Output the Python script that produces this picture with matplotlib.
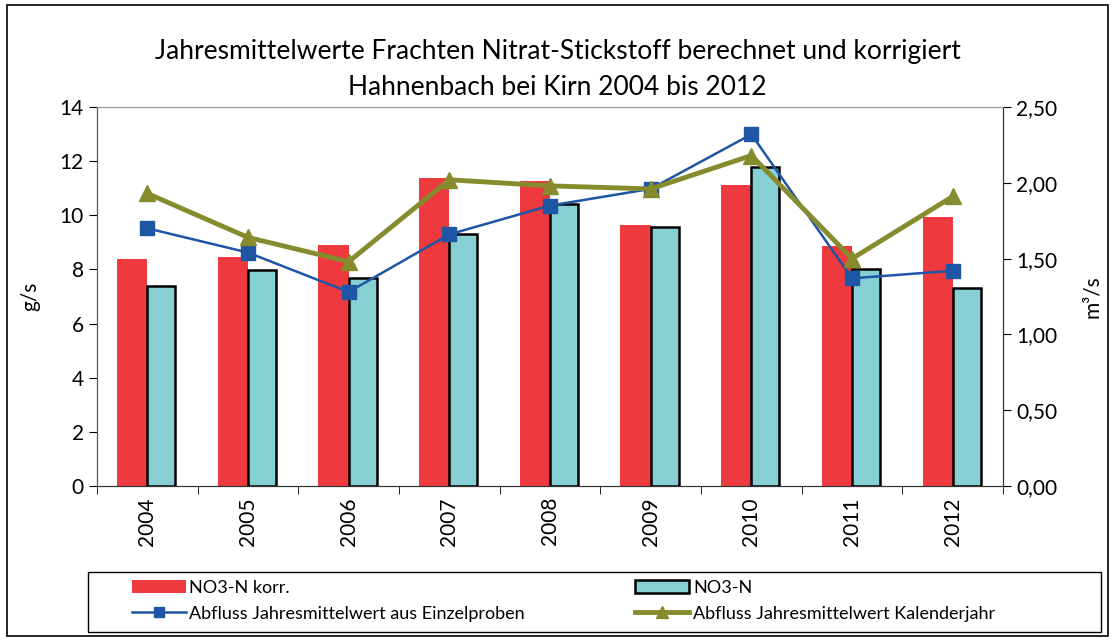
import numpy as np
import matplotlib
matplotlib.use("Agg")
import matplotlib.pyplot as plt
from matplotlib.patches import Rectangle

plt.rcParams["font.family"] = ["Lato", "DejaVu Sans"]

YEARS = ["2004", "2005", "2006", "2007", "2008", "2009", "2010", "2011", "2012"]
NO3_KORR = [8.39, 8.46, 8.90, 11.38, 11.27, 9.64, 11.12, 8.87, 9.94]
NO3 = [7.39, 7.98, 7.68, 9.31, 10.42, 9.57, 11.78, 8.02, 7.31]
Q_EINZEL = [1.70, 1.54, 1.28, 1.66, 1.85, 1.96, 2.32, 1.37, 1.42]
Q_KALENDER = [1.93, 1.64, 1.48, 2.02, 1.98, 1.96, 2.18, 1.50, 1.91]

RED = "#EE3A3E"
CYAN = "#86D0D4"
BLUE = "#1F55A5"
OLIVE = "#868B2E"

fig = plt.figure(figsize=(11.15, 6.41), dpi=100)
ax = fig.add_axes([0.087, 0.2418, 0.8126, 0.5912])
ax2 = ax.twinx()

x = np.arange(len(YEARS))
w = 0.3
b1 = ax.bar(x - w, NO3_KORR, w, align="edge", color=RED, label="NO3-N korr.", zorder=2)
b2 = ax.bar(x, NO3, w * 0.93, align="edge", color=CYAN, edgecolor="black",
            linewidth=1.8, label="NO3-N", zorder=2)

l1, = ax2.plot(x, Q_EINZEL, color=BLUE, lw=1.8, marker="s", ms=10,
               label="Abfluss Jahresmittelwert aus Einzelproben", zorder=3)
l2, = ax2.plot(x, Q_KALENDER, color=OLIVE, lw=3.5, marker="^", ms=11,
               label="Abfluss Jahresmittelwert Kalenderjahr", zorder=4)

ax.set_xlim(-0.5, len(YEARS) - 0.5)
ax.set_ylim(0, 14)
ax.set_yticks(range(0, 15, 2))
ax2.set_ylim(0, 2.5)
ax2.set_yticks(np.arange(0, 2.51, 0.5))
ax2.set_yticklabels([f"{v:.2f}".replace(".", ",") for v in np.arange(0, 2.51, 0.5)])

ax.set_xticks(x)
ax.set_xticklabels(YEARS, rotation=90, fontsize=15)
ax.set_xticks(np.arange(-0.5, len(YEARS), 1), minor=True)
ax.tick_params(axis="x", which="major", length=0, pad=8)
ax.tick_params(axis="x", which="minor", length=6, direction="out")
ax.tick_params(axis="y", labelsize=15, length=6, direction="out")
ax2.tick_params(axis="y", labelsize=15, length=6, direction="out")

for a in (ax, ax2):
    a.spines["top"].set_color("#999999")
    a.spines["left"].set_color("#555555")
    a.spines["right"].set_color("#333333")
    a.spines["bottom"].set_color("#333333")

ax.set_ylabel("g/s", fontsize=15, labelpad=14)
ax2.set_ylabel("m³/s", fontsize=15, labelpad=18)

fig.text(0.5, 0.919, "Jahresmittelwerte Frachten Nitrat-Stickstoff berechnet und korrigiert",
         ha="center", va="center", fontsize=19)
fig.text(0.5, 0.864, "Hahnenbach bei Kirn 2004 bis 2012",
         ha="center", va="center", fontsize=19)

# legend: row 1 bars, row 2 lines (column-wise fill)
leg = fig.legend([b1, l1, b2, l2],
                 [b1.get_label(), l1.get_label(), b2.get_label(), l2.get_label()],
                 loc="center left", bbox_to_anchor=(0.118, 0.063),
                 ncol=2, fontsize=13, frameon=False, borderaxespad=0, borderpad=0,
                 handlelength=3.0, handletextpad=0.2, columnspacing=6.1,
                 labelspacing=0.55, markerscale=0.75)

fig.patches.append(Rectangle((0.079, 0.014), 0.908, 0.094, transform=fig.transFigure,
                             fill=False, edgecolor="black", linewidth=1.0))
fig.patches.append(Rectangle((0.006, 0.008), 0.988, 0.984, transform=fig.transFigure,
                             fill=False, edgecolor="black", linewidth=1.2))

fig.savefig("out.png", dpi=100)
